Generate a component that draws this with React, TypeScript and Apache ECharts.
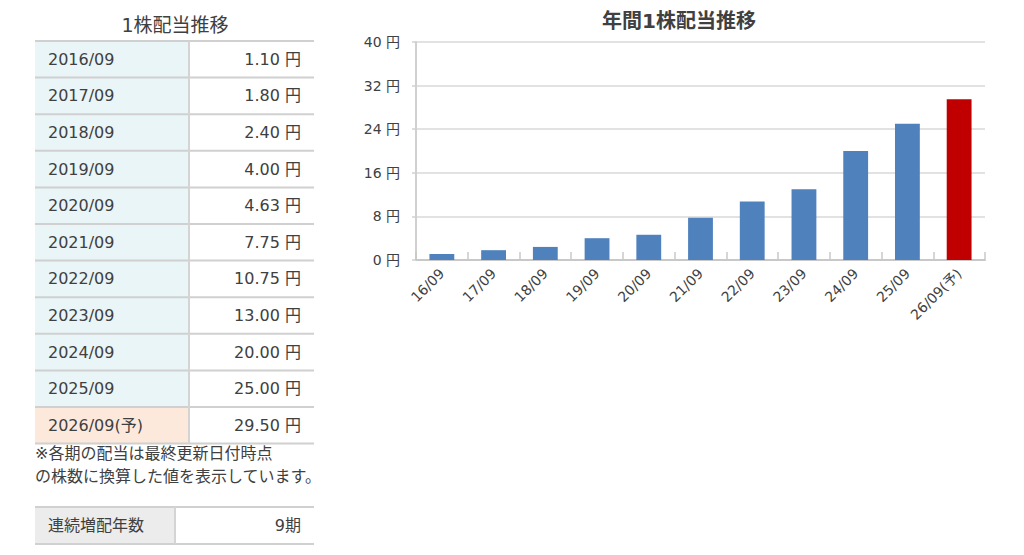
import React, { useEffect, useRef } from "react";
import * as echarts from "echarts";

const periods = ["2016/09", "2017/09", "2018/09", "2019/09", "2020/09", "2021/09", "2022/09", "2023/09", "2024/09", "2025/09", "2026/09(予)"];
const dividendTexts = ["1.10 円", "1.80 円", "2.40 円", "4.00 円", "4.63 円", "7.75 円", "10.75 円", "13.00 円", "20.00 円", "25.00 円", "29.50 円"];
const categories = ["16/09", "17/09", "18/09", "19/09", "20/09", "21/09", "22/09", "23/09", "24/09", "25/09", "26/09(予)"];
const dividends = [1.1, 1.8, 2.4, 4.0, 4.63, 7.75, 10.75, 13.0, 20.0, 25.0, 29.5];
const yTicks = [0, 8, 16, 24, 32, 40];
const tableTitle = "1株配当推移";
const chartTitle = "年間1株配当推移";
const noteLines = ["※各期の配当は最終更新日付時点", "の株数に換算した値を表示しています。"];
const streakLabel = "連続増配年数";
const streakValue = "9期";

const FONT = "'DejaVu Sans', 'Noto Sans CJK JP', sans-serif";
const TXT = "#404040";

export default function App() {
  const ref = useRef<HTMLDivElement>(null);
  useEffect(() => {
    if (!ref.current) return;
    const chart = echarts.init(ref.current, null, { renderer: "svg" });

    const tx0 = 35, tx1 = 314, tcol = 189, ty0 = 41, rh = 36.6;
    const g: any[] = [];
    g.push({ type: "text", x: 175, y: 25, style: { text: tableTitle, font: `19px ${FONT}`, fill: TXT, align: "center", verticalAlign: "middle" } });
    periods.forEach((p, i) => {
      const y = ty0 + i * rh;
      const last = i === periods.length - 1;
      g.push({ type: "rect", shape: { x: tx0, y, width: tcol - tx0, height: rh }, style: { fill: last ? "#fde9dc" : "#e9f5f7" } });
      g.push({ type: "text", x: 48, y: y + rh / 2, style: { text: p, font: `16px ${FONT}`, fill: TXT, align: "left", verticalAlign: "middle" } });
      g.push({ type: "text", x: 301, y: y + rh / 2, style: { text: dividendTexts[i], font: `16px ${FONT}`, fill: TXT, align: "right", verticalAlign: "middle" } });
    });
    for (let i = 0; i <= periods.length; i++) {
      const y = ty0 + i * rh;
      g.push({ type: "line", shape: { x1: tx0, y1: y, x2: tx1, y2: y }, style: { stroke: "#d0d0d0", lineWidth: 2 } });
    }
    g.push({ type: "line", shape: { x1: tcol, y1: ty0, x2: tcol, y2: ty0 + periods.length * rh }, style: { stroke: "#d4d4d4", lineWidth: 2 } });
    noteLines.forEach((t, i) => {
      g.push({ type: "text", x: 35, y: 453 + i * 23, style: { text: t, font: `16px ${FONT}`, fill: TXT, align: "left", verticalAlign: "middle" } });
    });
    const by0 = 507, by1 = 544, bcol = 175;
    g.push({ type: "rect", shape: { x: tx0, y: by0, width: bcol - tx0, height: by1 - by0 }, style: { fill: "#ececec" } });
    g.push({ type: "line", shape: { x1: tx0, y1: by0, x2: tx1, y2: by0 }, style: { stroke: "#d0d0d0", lineWidth: 2 } });
    g.push({ type: "line", shape: { x1: tx0, y1: by1, x2: tx1, y2: by1 }, style: { stroke: "#d0d0d0", lineWidth: 2 } });
    g.push({ type: "line", shape: { x1: bcol, y1: by0, x2: bcol, y2: by1 }, style: { stroke: "#d4d4d4", lineWidth: 2 } });
    g.push({ type: "text", x: 48, y: (by0 + by1) / 2, style: { text: streakLabel, font: `16px ${FONT}`, fill: TXT, align: "left", verticalAlign: "middle" } });
    g.push({ type: "text", x: 301, y: (by0 + by1) / 2, style: { text: streakValue, font: `16px ${FONT}`, fill: TXT, align: "right", verticalAlign: "middle" } });

    chart.setOption({
      animation: false,
      textStyle: { fontFamily: FONT },
      title: {
        text: chartTitle,
        left: 674,
        top: 6,
        textAlign: "center",
        textStyle: { fontSize: 20, fontWeight: "bold", color: TXT, fontFamily: FONT },
      },
      grid: { left: 416, right: 39, top: 42, bottom: 295 },
      xAxis: {
        type: "category",
        data: categories,
        boundaryGap: true,
        axisLine: { show: true, lineStyle: { color: "#c8c8c8", width: 2 } },
        axisTick: { show: true, inside: true, length: 8, alignWithLabel: false, lineStyle: { color: "#c8c8c8", width: 1.5 } },
        axisLabel: { rotate: 45, color: TXT, fontSize: 14, margin: 11, interval: 0, fontFamily: FONT },
      },
      yAxis: {
        type: "value",
        min: yTicks[0],
        max: yTicks[yTicks.length - 1],
        interval: yTicks[1] - yTicks[0],
        axisLine: { show: true, lineStyle: { color: "#d0d0d0", width: 2 } },
        axisTick: { show: true, length: 4, lineStyle: { color: "#d0d0d0", width: 1.5 } },
        splitLine: { lineStyle: { color: "#d9d9d9", width: 1.5 } },
        axisLabel: { formatter: "{value} 円", color: TXT, fontSize: 14, margin: 16, fontFamily: FONT },
      },
      series: [
        {
          type: "bar",
          data: dividends.map((v, i) => ({
            value: v,
            itemStyle: { color: i === dividends.length - 1 ? "#c00000" : "#4f81bd" },
          })),
          barWidth: "48%",
        },
      ],
      graphic: g,
    });
    return () => chart.dispose();
  }, []);
  return <div ref={ref} style={{ position: "fixed", left: 0, top: 0, width: 1024, height: 555, background: "#fff" }} />;
}
